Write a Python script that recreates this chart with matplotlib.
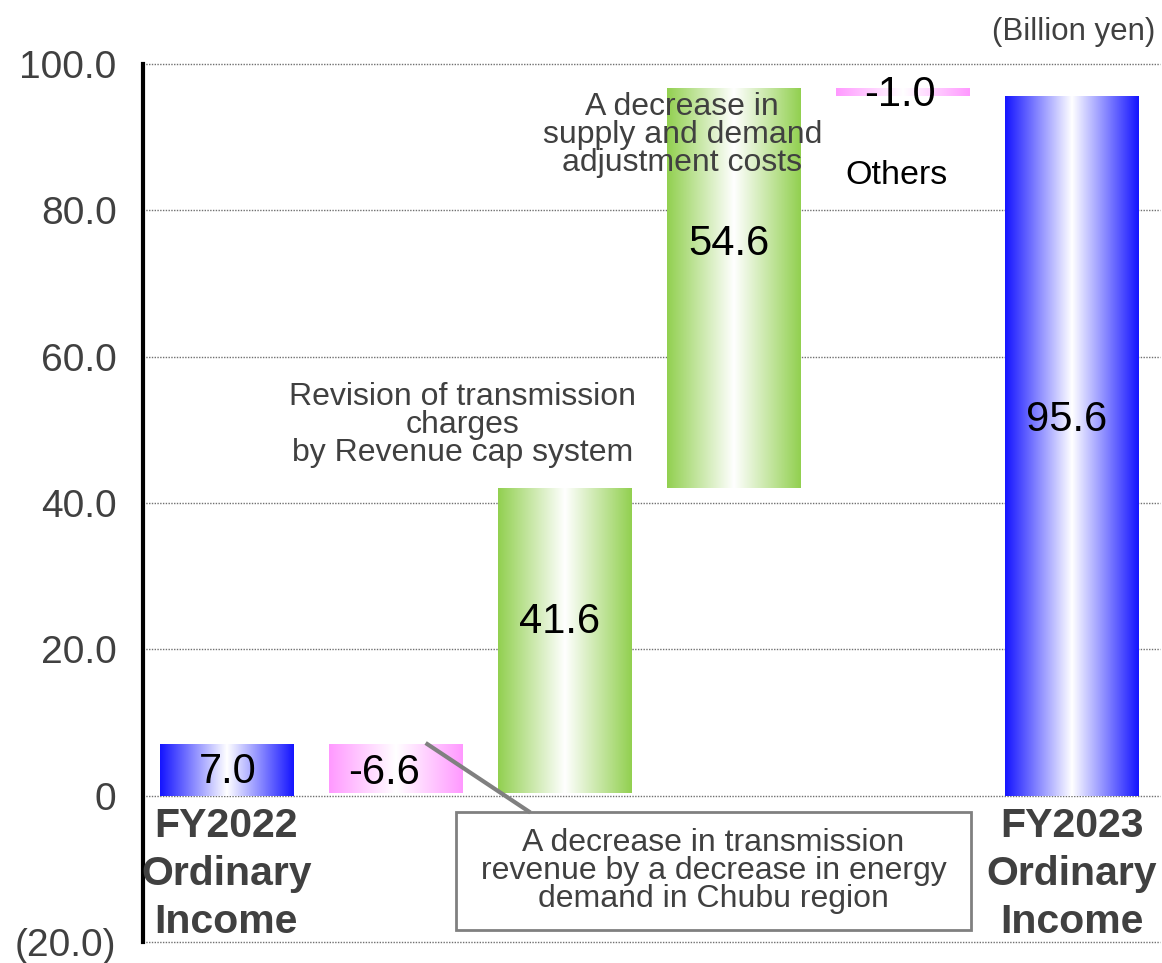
import numpy as np
import matplotlib
matplotlib.use("Agg")
import matplotlib.pyplot as plt
from matplotlib.colors import LinearSegmentedColormap
from matplotlib.patches import Rectangle

plt.rcParams['font.family'] = ['Liberation Sans', 'DejaVu Sans']

# Ordinary income bridge, FY2022 -> FY2023 (billion yen)
steps = ['FY2022\nOrdinary\nIncome', 'Demand', 'Revenue cap', 'Adjustment costs', 'Others',
         'FY2023\nOrdinary\nIncome']
values = [7.0, -6.6, 41.6, 54.6, -1.0, 95.6]
is_total = [True, False, False, False, False, True]
value_labels = ['7.0', '-6.6', '41.6', '54.6', '-1.0', '95.6']
yticks = [-20, 0, 20, 40, 60, 80, 100]
ytick_labels = ['(20.0)', '0', '20.0', '40.0', '60.0', '80.0', '100.0']

BLUE = '#1414ff'
PINK = '#ff99ff'
GREEN = '#92d050'
GREY = '#404040'

# bottoms / heights of the waterfall
bottoms, heights = [], []
running = 0.0
for v, tot in zip(values, is_total):
    if tot:
        bottoms.append(0.0)
        heights.append(v)
        running = v
    else:
        bottoms.append(running if v >= 0 else running + v)
        heights.append(abs(v))
        running += v

colors = []
for v, tot in zip(values, is_total):
    colors.append(BLUE if tot else (GREEN if v > 0 else PINK))

fig = plt.figure(figsize=(11.62, 9.63), dpi=100)
ax = fig.add_axes([143 / 1162, 1 - 942 / 963, 1017 / 1162, 878 / 963])

x = np.arange(len(values))
bars = ax.bar(x, heights, bottom=bottoms, width=0.79, color='none', edgecolor='none', zorder=2)

# horizontal gradient fill: colour at the edges, white in the middle
grad = np.linspace(0, 1, 256).reshape(1, -1)
for patch, c in zip(bars, colors):
    cmap = LinearSegmentedColormap.from_list('g', [(0, c), (0.5, 'white'), (1, c)])
    x0, y0 = patch.get_x(), patch.get_y()
    w, h = patch.get_width(), patch.get_height()
    ax.imshow(grad, cmap=cmap, extent=[x0, x0 + w, y0, y0 + h], aspect='auto',
              interpolation='bilinear', zorder=2)

ax.set_xlim(-0.493, 5.52)
ax.set_ylim(-20, 100)
ax.set_yticks(yticks)
ax.set_yticklabels(ytick_labels, fontsize=28, color=GREY)
ax.tick_params(axis='y', length=0, pad=19)
ax.set_xticks([])
ax.grid(axis='y', color='#707070', linestyle=(0, (1, 1)), linewidth=1.0, zorder=0)
for gl in ax.get_ygridlines():
    gl.set_clip_on(False)
for s in ['top', 'right', 'bottom']:
    ax.spines[s].set_visible(False)
ax.spines['left'].set_linewidth(3)
ax.spines['left'].set_color('black')

# value labels (offset from bar centre, height in data units)
label_dx = [0.01, -0.07, -0.03, -0.03, -0.02, -0.03]
label_y = [3.3, 3.1, 23.8, 75.4, 95.8, 51.4]
for i, (dx, ly, t) in enumerate(zip(label_dx, label_y, value_labels)):
    ax.text(i + dx, ly, t, ha='center', va='center', fontsize=30, color='black', zorder=3)

# category labels for the two totals
for i, lab in enumerate(steps):
    if is_total[i]:
        ax.text(i, -1.6, lab, ha='center', va='top', fontsize=29.5, fontweight='bold',
                color=GREY, linespacing=1.32)

ax.text(1.397, 50.7, 'Revision of transmission\ncharges\nby Revenue cap system',
        ha='center', va='center', fontsize=23, color=GREY, linespacing=0.92, zorder=3)
ax.text(2.696, 90.3, 'A decrease in\nsupply and demand\nadjustment costs',
        ha='center', va='center', fontsize=23, color=GREY, linespacing=0.92, zorder=3)
ax.text(3.96, 84.7, 'Others', ha='center', va='center', fontsize=24.5, color='black')
ax.text(0.995, 1.036, '(Billion yen)', transform=ax.transAxes, ha='right', va='center',
        fontsize=22.5, color=GREY)

# callout box for the demand decrease
box = Rectangle((1.356, -18.4), 3.048, 16.1, facecolor='white', edgecolor='#808080',
                linewidth=2, zorder=3)
ax.add_patch(box)
ax.text(2.88, -10.3, 'A decrease in transmission\nrevenue by a decrease in energy\ndemand in Chubu region',
        ha='center', va='center', fontsize=23, color=GREY, linespacing=0.92, zorder=4)
ax.plot([1.178, 1.797], [7.2, -2.3], color='#808080', linewidth=3, zorder=3,
        solid_capstyle='butt')

fig.savefig('out.png', dpi=100)
